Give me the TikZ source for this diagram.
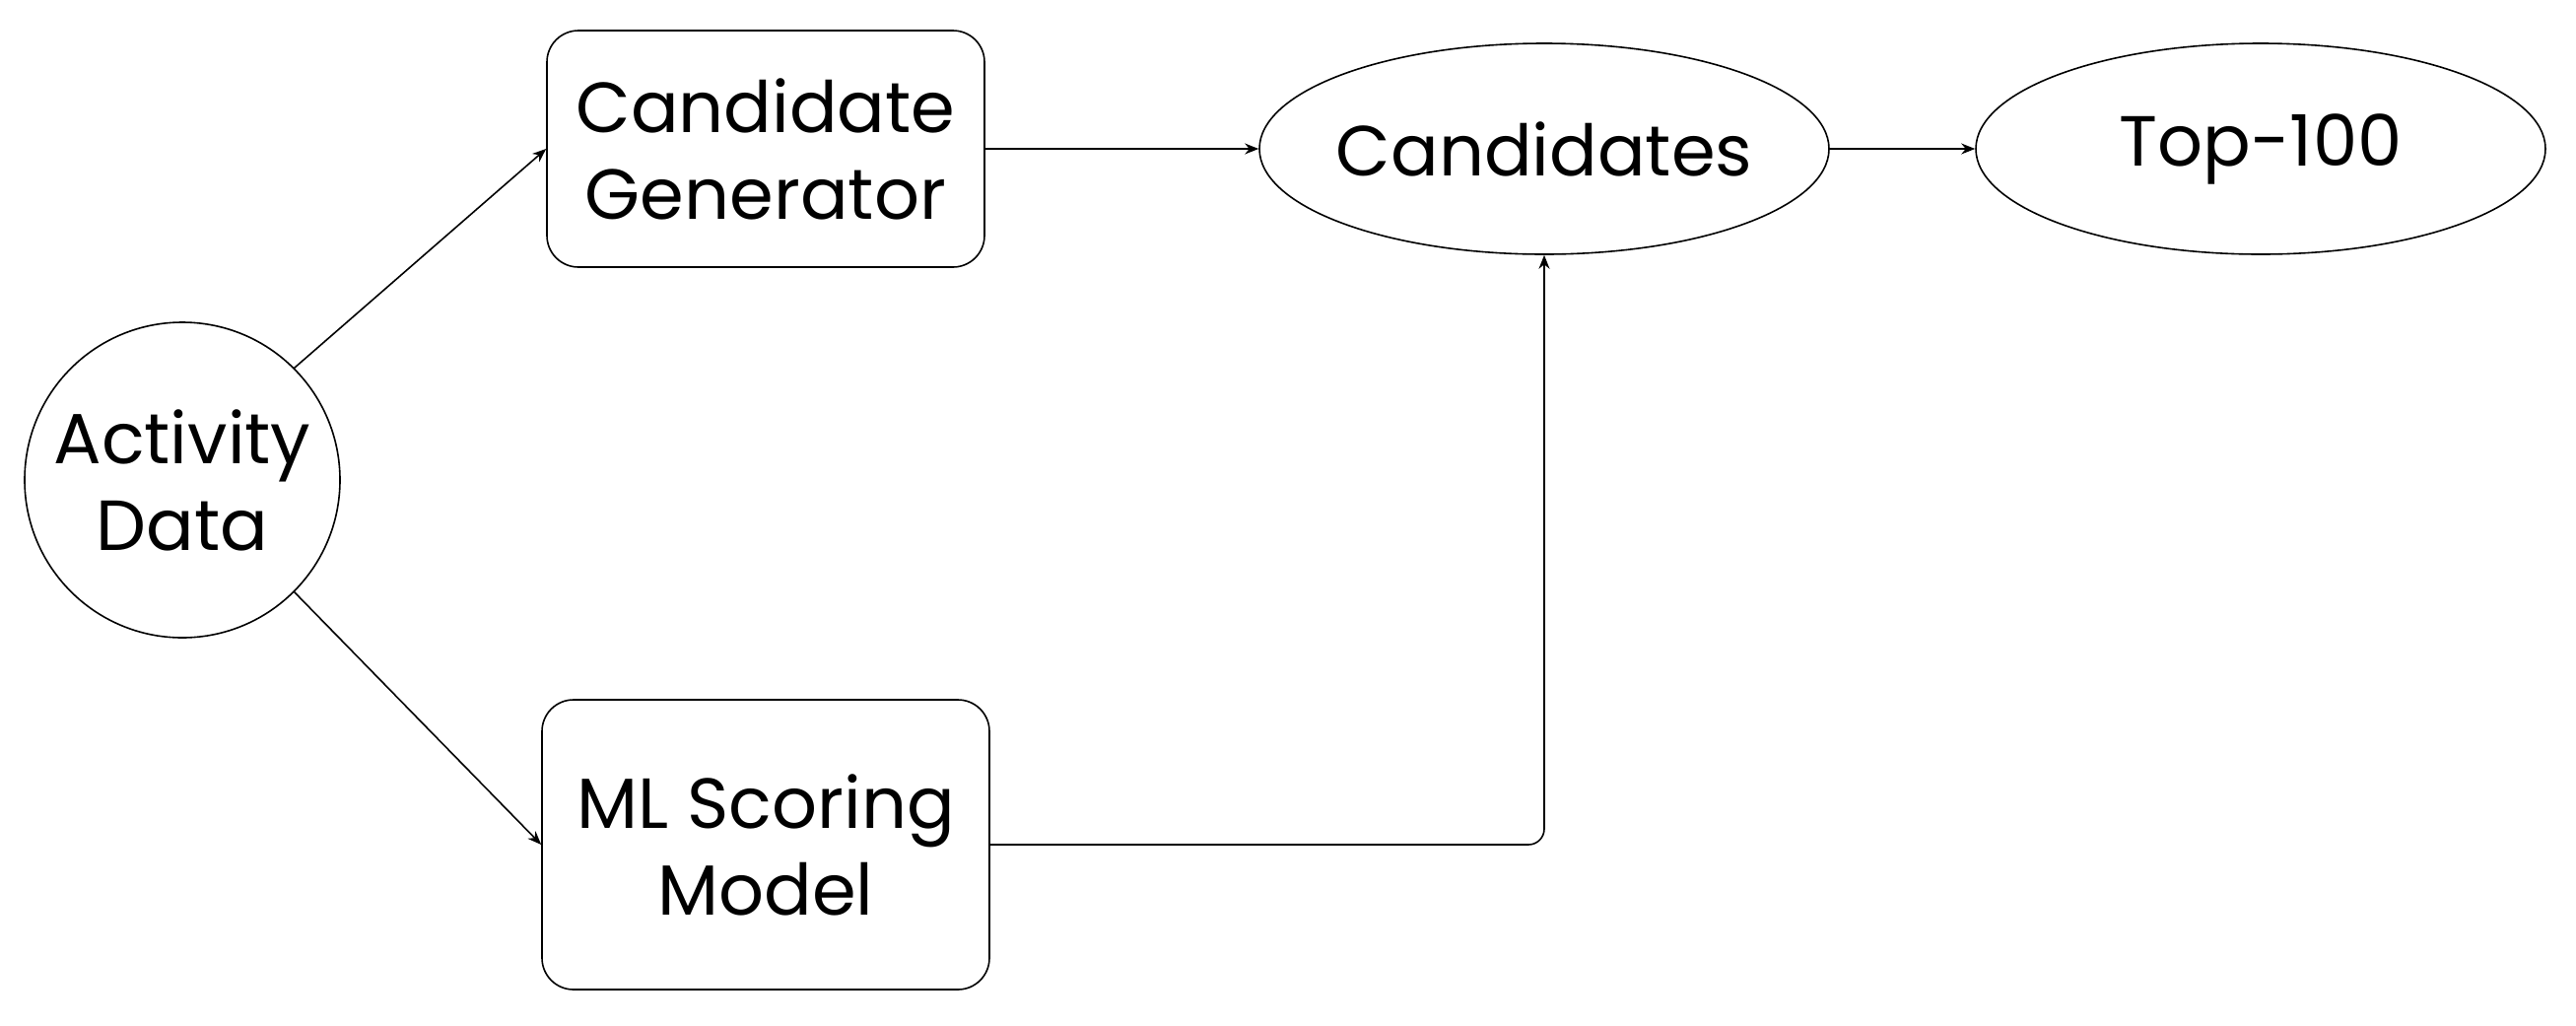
\documentclass[tikz,border=0pt]{standalone}
\usepackage{fontspec}
\setmainfont{Poppins}
\usetikzlibrary{arrows.meta,shapes.geometric}
\begin{document}
\begin{tikzpicture}[x=0.5pt,y=-0.5pt,
  every node/.style={font=\fontsize{36}{44}\selectfont, align=center, inner sep=0pt},
  box/.style={draw, line width=0.8pt, rounded corners=16pt},
  oval/.style={draw, line width=0.8pt, ellipse},
  conn/.style={line width=0.8pt, -{Stealth[length=7pt,width=5.5pt]}}]
\useasboundingbox (0,0) rectangle (2614,1040);
\node[draw, line width=0.8pt, circle, minimum size=160pt] (act) at (185,487) {Activity\\Data};
\node[box, minimum width=222pt, minimum height=120pt] (cg) at (777,151) {Candidate\\Generator};
\node[box, minimum width=227pt, minimum height=147pt] (ml) at (777,857) {ML Scoring\\Model};
\node[oval, minimum width=289pt, minimum height=107pt] (cand) at (1567,151) {\makebox[0pt]{Candidates}};
\node[oval, minimum width=289pt, minimum height=107pt] (top) at (2294,151) {\makebox[0pt]{Top-100}};
\draw[conn] (act.45) -- (cg.west);
\draw[conn] (act.-45) -- (ml.west);
\draw[conn] (cg.east) -- (cand.west);
\draw[conn] (cand.east) -- (top.west);
\draw[conn, rounded corners=8pt] (ml.east) -| (cand.south);
\end{tikzpicture}
\end{document}
